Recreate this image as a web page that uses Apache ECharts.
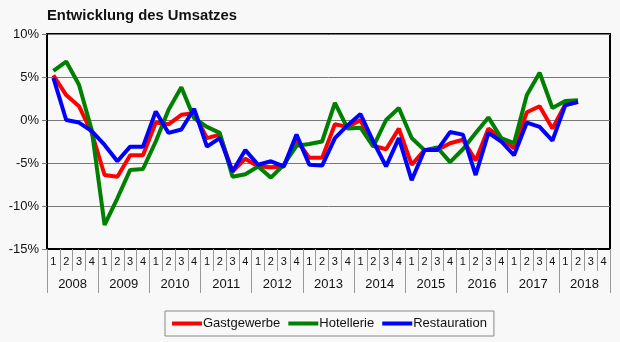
<!DOCTYPE html>
<html>
<head>
<meta charset="utf-8">
<script src="https://cdn.jsdelivr.net/npm/echarts@6/dist/echarts.min.js"></script>
<style>
  html, body { margin: 0; padding: 0; background: #f8f8f8; }
  #chart { width: 620px; height: 342px; }
</style>
</head>
<body>
<div id="chart"></div>
<script>
// Quarterly turnover change (%), 2008 Q1 – 2018 Q2
const years = ['2008', '2009', '2010', '2011', '2012', '2013', '2014', '2015', '2016', '2017', '2018'];
const quarterLabels = ['1', '2', '3', '4'];

const gastgewerbe = [
  5.2, 2.9, 1.6, -1.5, -6.4, -6.6, -4.1, -4.1, -0.3, -0.5, 0.6, 0.8,
  -2.1, -1.7, -6.0, -4.5, -5.4, -5.5, -5.4, -2.3, -4.4, -4.4, -0.5, -0.8,
  0.0, -3.0, -3.4, -1.0, -5.2, -3.5, -3.5, -2.7, -2.3, -4.7, -1.0, -2.1,
  -3.3, 0.9, 1.6, -1.0, 1.8, 2.1
];
const hotellerie = [
  5.7, 6.8, 4.1, -1.2, -12.2, -9.1, -5.8, -5.7, -2.5, 1.2, 3.8, 0.2,
  -0.8, -1.5, -6.6, -6.3, -5.4, -6.7, -5.2, -3.0, -2.8, -2.5, 2.0, -1.0,
  -0.9, -3.1, 0.0, 1.4, -2.1, -3.5, -3.2, -4.9, -3.4, -1.5, 0.3, -2.1,
  -2.7, 2.9, 5.5, 1.4, 2.2, 2.3
];
const restauration = [
  4.9, 0.0, -0.3, -1.3, -2.9, -4.8, -3.1, -3.1, 1.0, -1.5, -1.1, 1.3,
  -3.1, -2.1, -6.0, -3.5, -5.2, -4.8, -5.4, -1.7, -5.2, -5.3, -2.1, -0.6,
  0.7, -2.5, -5.4, -2.1, -7.0, -3.5, -3.5, -1.4, -1.7, -6.4, -1.5, -2.5,
  -4.1, -0.3, -0.8, -2.4, 1.7, 2.1
];

const yTicks = { min: -15, max: 10, step: 5 };

// one category per quarter, the year axis groups them by four
const categories = [];
years.forEach(y => quarterLabels.forEach(q => categories.push(y + ' Q' + q)));

const font = 'Arial, "Liberation Sans", sans-serif';

const chart = echarts.init(document.getElementById('chart'), null, { renderer: 'canvas' });

chart.setOption({
  backgroundColor: '#f8f8f8',
  animation: false,
  title: {
    text: 'Entwicklung des Umsatzes',
    left: 42,
    top: 3,
    textStyle: { fontFamily: font, fontSize: 14.8, fontWeight: 'bold', color: '#111' }
  },
  grid: {
    left: 47,
    right: 10,
    top: 34,
    bottom: 93,
    show: true,
    borderColor: '#000',
    borderWidth: 2,
    backgroundColor: '#f8f8f8'
  },
  legend: {
    bottom: 6,
    left: 165,
    data: ['Gastgewerbe', 'Hotellerie', 'Restauration'],
    icon: 'rect',
    itemWidth: 30,
    itemHeight: 4,
    itemGap: 8,
    borderColor: '#888',
    borderWidth: 1,
    padding: [6, 7, 6, 7],
    textStyle: { fontFamily: font, fontSize: 13, color: '#111', padding: [0, 0, 0, -4] }
  },
  xAxis: [
    {
      type: 'category',
      data: categories,
      boundaryGap: true,
      position: 'bottom',
      axisLine: { show: true, onZero: false, lineStyle: { color: '#000', width: 2 } },
      axisTick: { show: true, interval: 0, length: 22, lineStyle: { color: '#999', width: 1 } },
      axisLabel: {
        interval: 0,
        margin: 7,
        fontFamily: font,
        fontSize: 11,
        color: '#111',
        formatter: v => v.slice(-1)
      },
      splitLine: { show: false }
    },
    {
      type: 'category',
      data: years,
      boundaryGap: true,
      position: 'bottom',
      axisLine: { show: false, onZero: false },
      axisTick: { show: true, interval: 0, length: 44, lineStyle: { color: '#999', width: 1 } },
      axisLabel: { interval: 0, margin: 29, fontFamily: font, fontSize: 13, color: '#111' },
      splitLine: { show: false }
    }
  ],
  yAxis: {
    type: 'value',
    min: yTicks.min,
    max: yTicks.max,
    interval: yTicks.step,
    axisLine: { show: true, lineStyle: { color: '#000', width: 2 } },
    axisTick: { show: true, length: 5, lineStyle: { color: '#777' } },
    axisLabel: { fontFamily: font, fontSize: 13, color: '#111', margin: 8, formatter: '{value}%' },
    splitLine: { show: true, lineStyle: { color: '#777', width: 1 } }
  },
  series: [
    {
      name: 'Gastgewerbe', type: 'line', data: gastgewerbe, xAxisIndex: 0,
      symbol: 'none', color: '#ff0000', lineStyle: { width: 4, color: '#ff0000' }
    },
    {
      name: 'Hotellerie', type: 'line', data: hotellerie, xAxisIndex: 0,
      symbol: 'none', color: '#008000', lineStyle: { width: 4, color: '#008000' }
    },
    {
      name: 'Restauration', type: 'line', data: restauration, xAxisIndex: 0,
      symbol: 'none', color: '#0000ff', lineStyle: { width: 4, color: '#0000ff' }
    }
  ]
});
</script>
</body>
</html>
